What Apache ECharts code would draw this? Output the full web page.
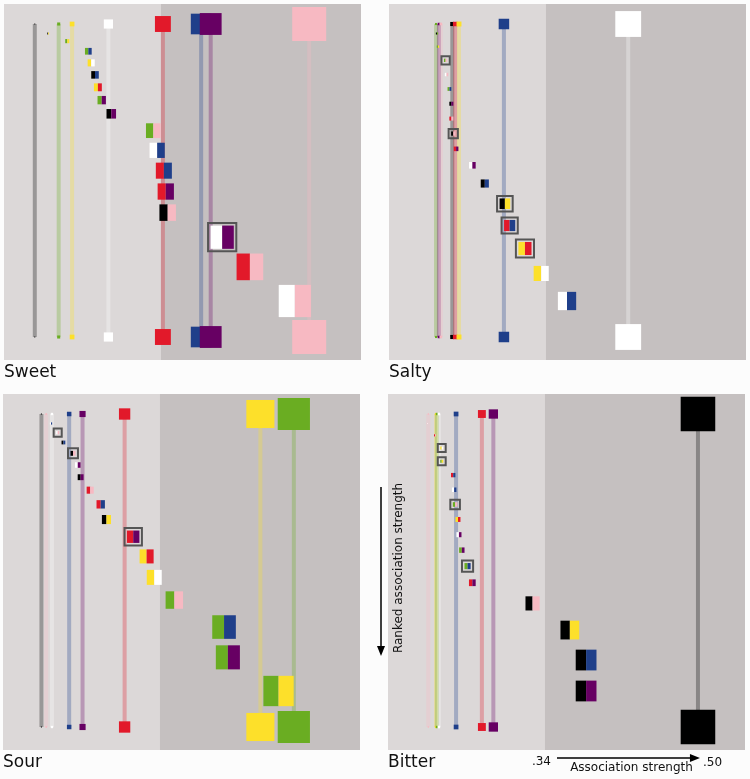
<!DOCTYPE html>
<html><head><meta charset="utf-8">
<script src="https://cdn.jsdelivr.net/npm/echarts@6/dist/echarts.min.js"></script>
<style>html,body{margin:0;padding:0;background:#fcfcfc;}#c{width:750px;height:779px;}</style>
</head><body><div id="c"></div>
<script>
// ---------- DATA ----------
const colorHex = {black:'#000000', white:'#ffffff', red:'#e2192a', yellow:'#fde02a', green:'#6aad22', navy:'#1f3f8a', purple:'#670063', pink:'#f7b9c2'};
const threshold = 0.34;          // start of the darker region
const axisLabels = ['.34', '.50'];
const axisLabelValues = [0.34, 0.50];

// Sweet
const sweetSingleColors = ['black','green','yellow','white','red','navy','purple','pink'];
const sweetSingleValues = [0.208,0.233,0.247,0.285,0.342,0.382,0.392,0.495];
const sweetPairLeft  = ['black','green','green','yellow','black','yellow','green','black','green','white','red','red','black','white','red','white'];
const sweetPairRight = ['yellow','yellow','navy','white','navy','red','purple','purple','pink','navy','navy','purple','pink','purple','pink','pink'];
const sweetPairValues = [0.222,0.242,0.264,0.267,0.271,0.274,0.278,0.288,0.332,0.336,0.343,0.345,0.347,0.404,0.433,0.480];
const sweetPairBoxed = [0,0,0,0,0,0,0,0,0,0,0,0,0,1,0,0];

// Salty
const saltySingleColors = ['green','purple','pink','black','red','yellow','navy','white'];
const saltySingleValues = [0.225,0.228,0.230,0.242,0.245,0.249,0.296,0.426];
const saltyPairLeft  = ['black','green','green','white','green','black','red','black','red','white','black','black','red','yellow','yellow','white'];
const saltyPairRight = ['green','yellow','pink','pink','navy','purple','pink','pink','purple','purple','navy','yellow','navy','red','white','navy'];
const saltyPairValues = [0.226,0.227,0.235,0.236,0.239,0.241,0.241,0.243,0.246,0.263,0.276,0.297,0.302,0.318,0.335,0.362];
const saltyPairBoxed = [0,0,1,0,0,0,0,1,0,0,0,1,1,1,0,0];

// Sour
const sourSingleColors = ['black','pink','white','navy','purple','red','yellow','green'];
const sourSingleValues = [0.216,0.221,0.227,0.245,0.259,0.303,0.445,0.480];
const sourPairLeft  = ['white','white','black','black','white','black','red','red','black','red','yellow','yellow','green','green','green','green'];
const sourPairRight = ['navy','pink','navy','pink','purple','purple','pink','navy','yellow','purple','red','white','pink','navy','purple','yellow'];
const sourPairValues = [0.226,0.233,0.239,0.249,0.254,0.257,0.267,0.278,0.284,0.312,0.326,0.334,0.355,0.407,0.411,0.464];
const sourPairBoxed = [0,1,0,1,0,0,0,0,0,1,0,0,0,0,0,0];

// Bitter
const bitterSingleColors = ['pink','yellow','green','white','navy','red','purple','black'];
const bitterSingleValues = [0.218,0.226,0.227,0.229,0.247,0.274,0.286,0.500];
const bitterPairLeft  = ['pink','red','yellow','green','red','white','green','yellow','white','green','green','red','black','black','black','black'];
const bitterPairRight = ['white','pink','white','yellow','navy','navy','pink','red','purple','purple','navy','purple','pink','yellow','navy','purple'];
const bitterPairValues = [0.217,0.225,0.232,0.232,0.244,0.245,0.246,0.249,0.250,0.253,0.259,0.264,0.327,0.366,0.383,0.383];
const bitterPairBoxed = [0,0,1,1,0,0,1,0,0,0,1,0,0,0,0,0];

// ---------- LAYOUT / STYLE ----------
const AXIS_MIN = 0.1758, AXIS_MAX = 0.5492;
const PANEL_W = 357, PANEL_H = 356;
const SINGLE_TOP = 20, SINGLE_BOTTOM = 333;
const PAIR_FIRST = 29.5, PAIR_LAST = 297;
const SIZE_SCALE = 118, SIZE_ZERO = 0.207;
const BG = ['#dcd8d8', '#c5c0c0'];

const panels = [
  {name:'Sweet',  left:4,   top:4,   sc:sweetSingleColors,  sv:sweetSingleValues,  pl:sweetPairLeft,  pr:sweetPairRight,  pv:sweetPairValues,  pb:sweetPairBoxed},
  {name:'Salty',  left:389, top:4,   sc:saltySingleColors,  sv:saltySingleValues,  pl:saltyPairLeft,  pr:saltyPairRight,  pv:saltyPairValues,  pb:saltyPairBoxed},
  {name:'Sour',   left:3,   top:394, sc:sourSingleColors,   sv:sourSingleValues,   pl:sourPairLeft,   pr:sourPairRight,   pv:sourPairValues,   pb:sourPairBoxed},
  {name:'Bitter', left:388, top:394, sc:bitterSingleColors, sv:bitterSingleValues, pl:bitterPairLeft, pr:bitterPairRight, pv:bitterPairValues, pb:bitterPairBoxed}
];

function sizeOf(v){ return Math.max(1, SIZE_SCALE * (v - SIZE_ZERO)); }
function rankPositions(values){
  const s = values.map(sizeOf);
  let sumHalf = 0;
  for (let i = 1; i < s.length; i++) sumHalf += (s[i-1] + s[i]) / 2;
  const gap = (PAIR_LAST - PAIR_FIRST - sumHalf) / (s.length - 1);
  const ys = [PAIR_FIRST];
  for (let i = 1; i < s.length; i++) ys.push(ys[i-1] + (s[i-1] + s[i]) / 2 + gap);
  return ys;
}

const grid = [], xAxis = [], yAxis = [], series = [];
panels.forEach((p, i) => {
  grid.push({left:p.left, top:p.top, width:PANEL_W, height:PANEL_H});
  xAxis.push({type:'value', gridIndex:i, min:AXIS_MIN, max:AXIS_MAX, show:false});
  yAxis.push({type:'value', gridIndex:i, min:0, max:PANEL_H, inverse:true, show:false});
  // background regions
  series.push({type:'custom', xAxisIndex:i, yAxisIndex:i, silent:true, clip:false, z:1,
    data:[[AXIS_MIN, threshold, 0],[threshold, AXIS_MAX, 1]],
    renderItem:(params, api) => {
      const a = api.coord([api.value(0), 0]);
      const b = api.coord([api.value(1), PANEL_H]);
      return {type:'rect', shape:{x:a[0], y:Math.min(a[1], b[1]), width:b[0]-a[0], height:Math.abs(b[1]-a[1])}, style:{fill:BG[api.value(2)]}};
    }});
  // single-colour connecting lines
  series.push({type:'custom', xAxisIndex:i, yAxisIndex:i, silent:true, clip:false, z:2,
    data:p.sv.map(v => [v]),
    renderItem:(params, api) => {
      const v = api.value(0);
      const a = api.coord([v, SINGLE_TOP]), b = api.coord([v, SINGLE_BOTTOM]);
      return {type:'line', shape:{x1:a[0], y1:a[1], x2:b[0], y2:b[1]}, style:{stroke:colorHex[p.sc[params.dataIndex]], lineWidth:4, opacity:0.3}};
    }});
  // single-colour squares (top and bottom)
  series.push({type:'custom', xAxisIndex:i, yAxisIndex:i, silent:true, clip:false, z:3,
    data:p.sv.map(v => [v]),
    renderItem:(params, api) => {
      const v = api.value(0), s = sizeOf(v), fill = colorHex[p.sc[params.dataIndex]];
      const a = api.coord([v, SINGLE_TOP]), b = api.coord([v, SINGLE_BOTTOM]);
      return {type:'group', children:[
        {type:'rect', shape:{x:a[0]-s/2, y:a[1]-s/2, width:s, height:s}, style:{fill}},
        {type:'rect', shape:{x:b[0]-s/2, y:b[1]-s/2, width:s, height:s}, style:{fill}}
      ]};
    }});
  // colour pairs, ranked by strength
  const ys = rankPositions(p.pv);
  series.push({type:'custom', xAxisIndex:i, yAxisIndex:i, silent:true, clip:false, z:4,
    data:p.pv.map((v, k) => [v, ys[k]]),
    renderItem:(params, api) => {
      const k = params.dataIndex;
      const v = api.value(0), c = api.coord([v, api.value(1)]), s = sizeOf(v);
      const ch = [
        {type:'rect', shape:{x:c[0]-s/2, y:c[1]-s/2, width:s/2, height:s}, style:{fill:colorHex[p.pl[k]]}},
        {type:'rect', shape:{x:c[0], y:c[1]-s/2, width:s/2, height:s}, style:{fill:colorHex[p.pr[k]]}}
      ];
      if (p.pb[k]) ch.push({type:'rect', shape:{x:c[0]-s/2-2.5, y:c[1]-s/2-2.5, width:s+5, height:s+5}, style:{fill:null, stroke:'#555555', lineWidth:2}});
      return {type:'group', children:ch};
    }});
});

const chart = echarts.init(document.getElementById('c'));
chart.setOption({animation:false, backgroundColor:'#fcfcfc', grid, xAxis, yAxis, series});

// annotations
const FONT = '"DejaVu Sans", Verdana, sans-serif';
const graphic = panels.map(p => ({type:'text', z:100, x:p.left, y:p.top + PANEL_H + 13,
  style:{text:p.name, font:'17px ' + FONT, fill:'#111', textVerticalAlign:'middle'}}));
const x34 = chart.convertToPixel({xAxisIndex:3}, axisLabelValues[0]);
const x50 = chart.convertToPixel({xAxisIndex:3}, axisLabelValues[1]);
const ay = 758;
graphic.push({type:'line', z:100, shape:{x1:x34+12, y1:ay, x2:x50-6, y2:ay}, style:{stroke:'#000', lineWidth:1.5}});
graphic.push({type:'polygon', z:100, shape:{points:[[x50-8, ay-4],[x50+2, ay],[x50-8, ay+4]]}, style:{fill:'#000'}});
graphic.push({type:'text', z:100, x:x34+6, y:768, style:{text:axisLabels[0], font:'12px ' + FONT, fill:'#111', textAlign:'right', textVerticalAlign:'bottom'}});
graphic.push({type:'text', z:100, x:x50+5, y:769, style:{text:axisLabels[1], font:'12px ' + FONT, fill:'#111', textAlign:'left', textVerticalAlign:'bottom'}});
graphic.push({type:'text', z:100, x:(x34+x50)/2+10, y:768, style:{text:'Association strength', font:'12px ' + FONT, fill:'#111', textAlign:'center', textVerticalAlign:'middle'}});
graphic.push({type:'line', z:100, shape:{x1:381, y1:487, x2:381, y2:648}, style:{stroke:'#000', lineWidth:1.5}});
graphic.push({type:'polygon', z:100, shape:{points:[[377, 646],[381, 656],[385, 646]]}, style:{fill:'#000'}});
graphic.push({type:'text', z:100, x:399, y:568, rotation:Math.PI/2, style:{text:'Ranked association strength', font:'12px ' + FONT, fill:'#111', textAlign:'center', textVerticalAlign:'middle'}});
chart.setOption({graphic});
</script></body></html>
